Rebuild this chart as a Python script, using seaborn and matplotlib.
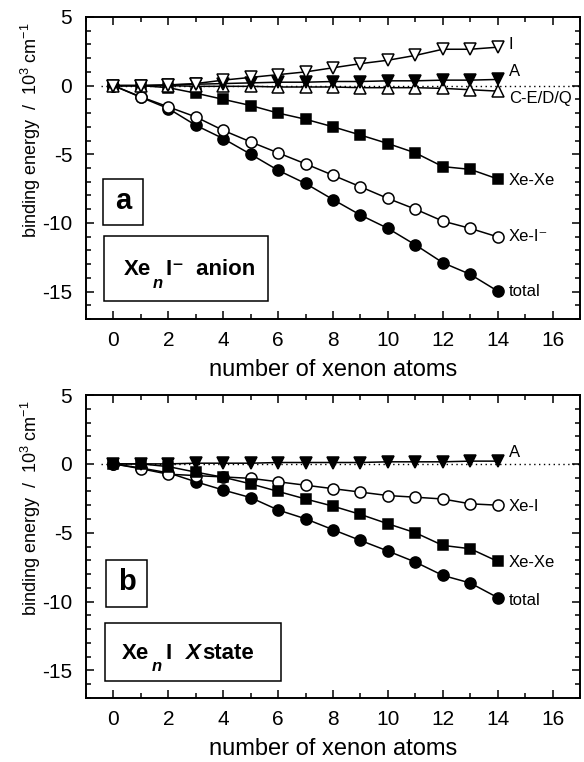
import matplotlib
matplotlib.use("Agg")
import matplotlib.pyplot as plt
from matplotlib.patches import Rectangle
from matplotlib.ticker import MultipleLocator
import seaborn as sns

# number of xenon atoms in the cluster
n_xenon = list(range(15))

# Xe_n I^- anion: binding-energy contributions (10^3 cm^-1)
anion_total = [0, -0.85, -1.67, -2.89, -3.86, -5.0, -6.17, -7.13, -8.3, -9.43,
               -10.4, -11.6, -12.9, -13.75, -14.97]
anion_xe_i = [0, -0.82, -1.55, -2.28, -3.26, -4.1, -4.9, -5.7, -6.53, -7.37,
              -8.22, -9.0, -9.87, -10.4, -11.02]
anion_xe_xe = [0, 0, -0.15, -0.55, -1.0, -1.45, -2.0, -2.45, -3.0, -3.6,
               -4.22, -4.9, -5.9, -6.1, -6.8]
anion_ind = [0, 0, 0.05, 0.15, 0.4, 0.6, 0.8, 1.0, 1.3, 1.6,
             1.85, 2.2, 2.65, 2.65, 2.8]
anion_axil = [0, 0, 0.05, 0.1, 0.15, 0.2, 0.25, 0.25, 0.3, 0.3,
              0.35, 0.35, 0.4, 0.4, 0.45]
anion_cedq = [0, 0, 0, -0.05, -0.05, -0.05, -0.1, -0.1, -0.1, -0.15,
              -0.15, -0.15, -0.2, -0.3, -0.4]

# Xe_n I X state
x_total = [0, -0.3, -0.65, -1.3, -1.9, -2.45, -3.35, -3.99, -4.78, -5.56,
           -6.33, -7.13, -8.1, -8.65, -9.71]
x_xe_i = [0, -0.35, -0.75, -0.85, -0.95, -1.05, -1.3, -1.55, -1.8, -2.05,
          -2.3, -2.42, -2.55, -2.9, -3.0]
x_xe_xe = [0, 0, -0.2, -0.6, -0.97, -1.45, -2.0, -2.55, -3.07, -3.67,
           -4.35, -5.0, -5.92, -6.16, -7.08]
x_axil = [0, 0, 0, 0.05, 0.05, 0.05, 0.1, 0.1, 0.1, 0.1,
          0.15, 0.15, 0.15, 0.2, 0.2]

x_ticks = [0, 2, 4, 6, 8, 10, 12, 14, 16]
y_ticks = [5, 0, -5, -10, -15]

sns.set_theme(style="ticks")
plt.rcParams["font.family"] = ["Liberation Sans", "DejaVu Sans"]
plt.rcParams["axes.unicode_minus"] = False
plt.rcParams["mathtext.fontset"] = "custom"
plt.rcParams["mathtext.rm"] = "Liberation Sans"
plt.rcParams["mathtext.it"] = "Liberation Sans:italic"
plt.rcParams["mathtext.bf"] = "Liberation Sans:bold"

fig = plt.figure(figsize=(5.84, 7.62), dpi=100)
ax_a = fig.add_axes([0.1473, 0.5814, 0.8459, 0.3963])
ax_b = fig.add_axes([0.1473, 0.0840, 0.8459, 0.3976])


def draw_series(ax, y, marker, filled, label, dy, size=8.0, z=3):
    sns.lineplot(x=n_xenon, y=y, ax=ax, color="black", linewidth=1.1,
                 marker=marker, markersize=size,
                 markerfacecolor="black" if filled else "white",
                 markeredgecolor="black", markeredgewidth=1.1,
                 zorder=z, errorbar=None)
    ax.annotate(label, (n_xenon[-1], y[-1]), xytext=(8, dy),
                textcoords="offset points", ha="left", va="center",
                fontsize=12, color="black")


def style_axes(ax):
    ax.set_xlim(-1, 17)
    ax.set_ylim(-17, 5)
    ax.set_xticks(x_ticks)
    ax.set_yticks(y_ticks)
    ax.xaxis.set_minor_locator(MultipleLocator(1))
    ax.yaxis.set_minor_locator(MultipleLocator(1))
    ax.tick_params(which="both", direction="in", top=True, right=True,
                   colors="black", labelsize=15, width=1.1)
    ax.tick_params(which="major", length=6)
    ax.tick_params(which="minor", length=3.5)
    ax.tick_params(axis="y", pad=10)
    ax.tick_params(axis="x", pad=9)
    for sp in ax.spines.values():
        sp.set_linewidth(1.4)
        sp.set_color("black")
    ax.axhline(0, xmin=0.03, color="black", linestyle=(0, (1, 2.5)),
               linewidth=1.0, zorder=1)
    ax.set_xlabel("number of xenon atoms", fontsize=17, color="black", labelpad=6)
    ax.set_ylabel("binding energy  /  10$^3$ cm$^{-1}$", fontsize=13, color="black")
    ax.yaxis.set_label_coords(-0.088, 0.626)


def frame(ax, x0, y0, x1, y1):
    ax.add_patch(Rectangle((x0, y0), x1 - x0, y1 - y0, fill=False,
                           edgecolor="black", linewidth=1.1, zorder=5))


def bold_text(ax, x, y, s, size=16, style="normal", ha="left", va="baseline"):
    ax.text(x, y, s, fontsize=size, fontweight="bold", fontstyle=style,
            ha=ha, va=va, color="black", zorder=6)


# panel a: anion
draw_series(ax_a, anion_total, "o", True, "total", 0)
draw_series(ax_a, anion_xe_i, "o", False, "Xe-I⁻", 0)
draw_series(ax_a, anion_xe_xe, "s", True, "Xe-Xe", -1, size=7.2)
draw_series(ax_a, anion_cedq, "^", False, "C-E/D/Q", -5, size=8.5)
draw_series(ax_a, anion_axil, "v", True, "A", 6, size=8.5)
draw_series(ax_a, anion_ind, "v", False, "I", 2, size=8.5)
style_axes(ax_a)
frame(ax_a, -0.37, -10.12, 1.08, -6.77)
bold_text(ax_a, 0.36, -8.4, "a", size=21, ha="center", va="center")
frame(ax_a, -0.34, -15.72, 5.64, -10.92)
bold_text(ax_a, 0.39, -13.83, "Xe")
bold_text(ax_a, 1.42, -14.75, "n", size=12, style="italic")
bold_text(ax_a, 1.91, -13.83, "I⁻  anion")

# panel b: X state
draw_series(ax_b, x_total, "o", True, "total", -2)
draw_series(ax_b, x_xe_i, "o", False, "Xe-I", -1)
draw_series(ax_b, x_xe_xe, "s", True, "Xe-Xe", -1, size=7.2)
draw_series(ax_b, x_axil, "v", True, "A", 6, size=8.5)
style_axes(ax_b)
frame(ax_b, -0.28, -10.36, 1.24, -6.95)
bold_text(ax_b, 0.48, -8.6, "b", size=21, ha="center", va="center")
frame(ax_b, -0.32, -15.8, 6.09, -11.53)
bold_text(ax_b, 0.32, -14.14, "Xe")
bold_text(ax_b, 1.40, -15.05, "n", size=12, style="italic")
bold_text(ax_b, 1.91, -14.14, "I")
bold_text(ax_b, 2.6, -14.14, "X", style="italic")
bold_text(ax_b, 3.25, -14.14, "state")

fig.savefig("out.png", dpi=100, facecolor="white")
